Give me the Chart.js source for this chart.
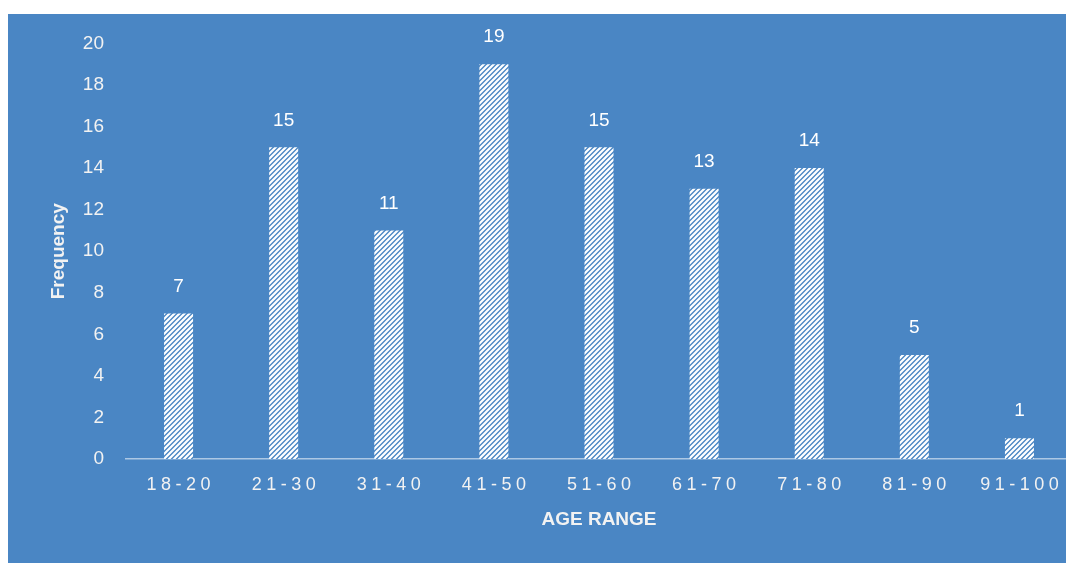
<!DOCTYPE html>
<html>
<head>
<meta charset="utf-8">
<script src="https://cdn.jsdelivr.net/npm/chart.js@4.4.1/dist/chart.umd.min.js"></script>
<style>
    html, body { margin: 0; padding: 0; background: #ffffff; }
    #panel {
        position: absolute;
        left: 8px;
        top: 14px;
        width: 1058px;
        height: 549px;
        overflow: hidden;
        background: #4a86c4;
    }
    #chartWrap { position: absolute; left: 0; top: -4px; width: 1080px; height: 553px; }
</style>
</head>
<body>
<div id="panel">
    <div id="chartWrap"><canvas id="ageChart" width="1080" height="553"></canvas></div>
</div>
<script>
// Chart data
const ageRanges = ['18-20', '21-30', '31-40', '41-50', '51-60', '61-70', '71-80', '81-90', '91-100'];
const frequencies = [7, 15, 11, 19, 15, 13, 14, 5, 1];
const yTicks = [0, 2, 4, 6, 8, 10, 12, 14, 16, 18, 20];

// White diagonal hatch, like Excel's wide upward diagonal
function makeHatch() {
    const size = 5;
    const c = document.createElement('canvas');
    c.width = size;
    c.height = size;
    const g = c.getContext('2d');
    g.fillStyle = '#4a86c4';
    g.fillRect(0, 0, size, size);
    g.strokeStyle = '#ffffff';
    g.lineWidth = 2.2;
    g.beginPath();
    g.moveTo(-1, size + 1);
    g.lineTo(size + 1, -1);
    g.moveTo(-2, 2);
    g.lineTo(2, -2);
    g.moveTo(size - 2, size + 2);
    g.lineTo(size + 2, size - 2);
    g.stroke();
    return g.createPattern(c, 'repeat');
}

// Value labels above each bar
const valueLabels = {
    id: 'valueLabels',
    afterDatasetsDraw(chart) {
        const ctx = chart.ctx;
        const meta = chart.getDatasetMeta(0);
        ctx.save();
        ctx.fillStyle = '#ffffff';
        ctx.font = '19px "Liberation Sans", Arial, sans-serif';
        ctx.textAlign = 'center';
        ctx.textBaseline = 'middle';
        meta.data.forEach((bar, i) => {
            ctx.fillText(String(frequencies[i]), bar.x, bar.y - 27);
        });
        ctx.restore();
    }
};

const ctx = document.getElementById('ageChart').getContext('2d');
new Chart(ctx, {
    type: 'bar',
    data: {
        labels: ageRanges,
        datasets: [{
            label: 'Frequency',
            data: frequencies,
            backgroundColor: makeHatch(),
            borderWidth: 0,
            barPercentage: 0.276,
            categoryPercentage: 1
        }]
    },
    options: {
        responsive: false,
        animation: false,
        layout: { padding: { top: 25, right: 16, bottom: 0, left: 0 } },
        plugins: {
            legend: { display: false },
            tooltip: { enabled: false }
        },
        scales: {
            x: {
                grid: { display: false, drawTicks: false },
                border: { display: true, color: 'rgba(255,255,255,0.55)', width: 1.5 },
                ticks: {
                    color: '#f2f2f2',
                    font: { family: '"Liberation Sans", Arial, sans-serif', size: 18 },
                    padding: 15,
                    maxRotation: 0,
                    autoSkip: false,
                    callback: (v, i) => ageRanges[i].split('').join('\u2005')
                },
                title: {
                    display: true,
                    text: 'AGE RANGE',
                    color: '#f2f2f2',
                    font: { family: '"Liberation Sans", Arial, sans-serif', size: 19, weight: 'bold' },
                    padding: { top: 0, bottom: 32 }
                },
                afterFit: (scale) => { scale.height = 104; }
            },
            y: {
                min: 0,
                max: 20,
                grid: { display: false, drawTicks: false },
                border: { display: false },
                afterBuildTicks: (scale) => { scale.ticks = yTicks.map(v => ({ value: v })); },
                ticks: {
                    color: '#f2f2f2',
                    font: { family: '"Liberation Sans", Arial, sans-serif', size: 19 },
                    padding: 22
                },
                title: {
                    display: true,
                    text: 'Frequency',
                    color: '#f2f2f2',
                    font: { family: '"Liberation Sans", Arial, sans-serif', size: 19, weight: 'bold' },
                    padding: { top: 39, bottom: 0 }
                },
                afterFit: (scale) => { scale.width = 118; }
            }
        }
    },
    plugins: [valueLabels]
});
</script>
</body>
</html>
